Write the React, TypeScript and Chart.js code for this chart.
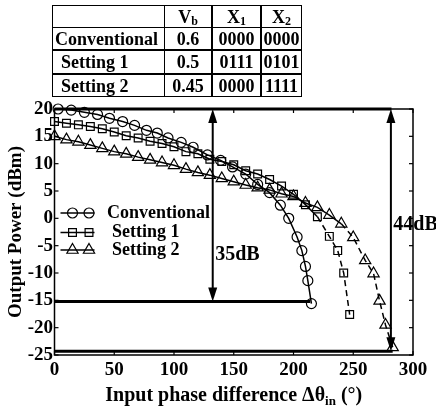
import React, { useEffect, useRef } from "react";
import { Chart, registerables } from "chart.js";

Chart.register(...registerables);

// ---- data ----
const conventionalX = [3, 14, 25, 36, 46, 57, 67, 77, 86, 95, 106, 116, 128, 139, 149, 160, 170, 180, 189, 196, 203, 207, 210, 212, 215];
const conventionalY = [20.0, 19.8, 19.4, 19.0, 18.3, 17.7, 17.0, 16.1, 15.6, 14.7, 13.9, 13.0, 11.6, 10.6, 9.4, 8.1, 6.2, 4.7, 2.4, 0.0, -3.4, -5.9, -8.8, -11.4, -15.6];

const setting1X = [0, 10, 20, 30, 40, 50, 60, 70, 80, 90, 100, 110, 120, 130, 140, 150, 160, 170, 180, 190, 200, 210, 220, 230, 237, 242, 247];
const setting1Y = [17.7, 17.4, 17.1, 16.8, 16.4, 15.8, 15.1, 14.7, 14.1, 13.7, 13.1, 12.2, 11.8, 10.8, 10.4, 9.8, 8.7, 8.1, 7.1, 5.9, 4.4, 2.5, 0.3, -3.3, -5.9, -10.0, -17.6];

const setting2X = [0, 10, 20, 30, 40, 50, 60, 70, 80, 90, 100, 110, 120, 130, 140, 150, 160, 170, 180, 190, 200, 210, 220, 230, 240, 250, 260, 267, 272, 277, 283];
const setting2Y = [15.0, 14.4, 14.0, 13.4, 12.8, 12.2, 11.8, 11.2, 10.7, 10.2, 9.7, 9.0, 8.4, 7.9, 7.3, 6.7, 6.1, 5.6, 5.2, 4.5, 4.0, 2.8, 2.0, 0.6, -1.0, -3.5, -7.7, -10.1, -15.1, -19.5, -23.6];

const seriesNames = ["Conventional", "Setting 1", "Setting 2"];

const xTicks = [0, 50, 100, 150, 200, 250, 300];
const yTicks = [-25, -20, -15, -10, -5, 0, 5, 10, 15, 20];

// reference levels: [yValue, xEnd]
const levelY = [20, -15.2, -24.3];
const levelXEnd = [282, 214, 283];
// double arrows
const arrowX = [132.4, 281.5];
const arrowTop = [20, 20];
const arrowBottom = [-15.2, -24.3];
const arrowLabels = ["35dB", "44dB"];
const arrowLabelX = [134.5, 283.5];
const arrowLabelY = [-6.6, -1.2];

// table
const tableHeader = ["", "V", "X", "X"];
const tableHeaderSub = ["", "b", "1", "2"];
const tableRows = [
  ["Conventional", "0.6", "0000", "0000"],
  ["Setting 1", "0.5", "0111", "0101"],
  ["Setting 2", "0.45", "0000", "1111"],
];

const SERIF = '"Liberation Serif", "Times New Roman", serif';

const toPts = (xs: number[], ys: number[]) => xs.map((x, i) => ({ x, y: ys[i] }));

function drawMarker(ctx: CanvasRenderingContext2D, style: string, x: number, y: number, r: number) {
  ctx.beginPath();
  if (style === "circle") {
    ctx.arc(x, y, r, 0, Math.PI * 2);
  } else if (style === "rect") {
    const s = r * Math.SQRT1_2;
    ctx.rect(x - s, y - s, 2 * s, 2 * s);
  } else {
    let a = 0;
    ctx.moveTo(x + Math.sin(a) * r, y - Math.cos(a) * r);
    a += (2 * Math.PI) / 3;
    ctx.lineTo(x + Math.sin(a) * r, y - Math.cos(a) * r);
    a += (2 * Math.PI) / 3;
    ctx.lineTo(x + Math.sin(a) * r, y - Math.cos(a) * r);
    ctx.closePath();
  }
  ctx.stroke();
}

const markerStyles = ["circle", "rect", "triangle"];
const markerRadii = [5, 5.5, 6.5];

const overlayPlugin = {
  id: "overlay",
  afterDatasetsDraw(chart: any) {
    const { ctx, chartArea: a, scales } = chart;
    const xs = scales.x;
    const ys = scales.y;
    const line = (x1: number, y1: number, x2: number, y2: number) => {
      ctx.beginPath();
      ctx.moveTo(x1, y1);
      ctx.lineTo(x2, y2);
      ctx.stroke();
    };
    ctx.save();
    ctx.strokeStyle = "#000";
    ctx.fillStyle = "#000";
    // frame
    ctx.lineWidth = 1.5;
    ctx.strokeRect(a.left, a.top, a.right - a.left, a.bottom - a.top);
    // inward ticks
    ctx.lineWidth = 1.2;
    xTicks.forEach((v) => {
      const px = xs.getPixelForValue(v);
      line(px, a.bottom, px, a.bottom - 4);
      line(px, a.top, px, a.top + 4);
    });
    yTicks.forEach((v) => {
      const py = ys.getPixelForValue(v);
      line(a.left, py, a.left + 4, py);
      line(a.right, py, a.right - 4, py);
    });
    // reference levels
    ctx.lineWidth = 3;
    levelY.forEach((v, i) => {
      const py = ys.getPixelForValue(v);
      line(xs.getPixelForValue(0), py, xs.getPixelForValue(levelXEnd[i]), py);
    });
    // double arrows
    arrowX.forEach((v, i) => {
      const px = xs.getPixelForValue(v);
      const pt = ys.getPixelForValue(arrowTop[i]);
      const pb = ys.getPixelForValue(arrowBottom[i]);
      const hl = 14;
      const hw = 4.5;
      ctx.lineWidth = 2;
      line(px, pt + hl - 1, px, pb - hl + 1);
      ctx.beginPath();
      ctx.moveTo(px, pt);
      ctx.lineTo(px - hw, pt + hl);
      ctx.lineTo(px + hw, pt + hl);
      ctx.closePath();
      ctx.fill();
      ctx.beginPath();
      ctx.moveTo(px, pb);
      ctx.lineTo(px - hw, pb - hl);
      ctx.lineTo(px + hw, pb - hl);
      ctx.closePath();
      ctx.fill();
      ctx.font = `bold 20px ${SERIF}`;
      ctx.textAlign = "left";
      ctx.textBaseline = "middle";
      ctx.fillText(arrowLabels[i], xs.getPixelForValue(arrowLabelX[i]), ys.getPixelForValue(arrowLabelY[i]));
    });
    // legend
    const rowsY = [a.top + 104, a.top + 123.5, a.top + 141];
    const textX = [a.left + 52.5, a.left + 57.5, a.left + 57.5];
    seriesNames.forEach((name, i) => {
      const ry = rowsY[i];
      ctx.lineWidth = 1.5;
      line(a.left + 6, ry, a.left + 40, ry);
      ctx.lineWidth = 1.2;
      drawMarker(ctx, markerStyles[i], a.left + 18, ry, markerRadii[i]);
      drawMarker(ctx, markerStyles[i], a.left + 34.5, ry, markerRadii[i]);
      ctx.font = `bold 18px ${SERIF}`;
      ctx.textAlign = "left";
      ctx.textBaseline = "middle";
      ctx.fillText(name, textX[i], ry);
    });
    // x axis title with subscript
    const p1 = "Input phase difference \u0394\u03B8";
    const sub = "in";
    const p3 = " (\u00B0)";
    const big = `bold 20px ${SERIF}`;
    const small = `bold 13px ${SERIF}`;
    ctx.font = big;
    const w1 = ctx.measureText(p1).width;
    const w3 = ctx.measureText(p3).width;
    ctx.font = small;
    const w2 = ctx.measureText(sub).width;
    const total = w1 + w2 + w3;
    let tx = (a.left + a.right) / 2 - total / 2;
    const base = 401;
    ctx.textBaseline = "alphabetic";
    ctx.textAlign = "left";
    ctx.font = big;
    ctx.fillText(p1, tx, base);
    tx += w1;
    ctx.font = small;
    ctx.fillText(sub, tx, base + 4);
    tx += w2;
    ctx.font = big;
    ctx.fillText(p3, tx, base);
    ctx.restore();
  },
};

function ChartCanvas() {
  const ref = useRef<HTMLCanvasElement | null>(null);
  useEffect(() => {
    if (!ref.current) return;
    const common = {
      borderColor: "#000",
      backgroundColor: "transparent",
      pointBorderColor: "#000",
      pointBackgroundColor: "transparent",
      borderWidth: 1.5,
      pointBorderWidth: 1.2,
      showLine: true,
      fill: false,
      tension: 0,
      clip: false as any,
    };
    const chart = new Chart(ref.current, {
      type: "scatter",
      data: {
        datasets: [
          {
            ...common,
            label: seriesNames[0],
            data: toPts(conventionalX, conventionalY),
            pointStyle: "circle",
            pointRadius: markerRadii[0],
          },
          {
            ...common,
            label: seriesNames[1],
            data: toPts(setting1X, setting1Y),
            pointStyle: "rect",
            pointRadius: markerRadii[1],
            segment: {
              borderDash: (c: any) => (c.p0.parsed.x >= 220 ? [6, 4] : undefined),
            },
          },
          {
            ...common,
            label: seriesNames[2],
            data: toPts(setting2X, setting2Y),
            pointStyle: "triangle",
            pointRadius: markerRadii[2],
            segment: {
              borderDash: (c: any) => (c.p0.parsed.x >= 240 ? [6, 4] : undefined),
            },
          },
        ],
      },
      options: {
        responsive: false,
        animation: false,
        layout: { padding: { top: 109, right: 23, left: 0, bottom: 0 } },
        plugins: { legend: { display: false }, tooltip: { enabled: false } },
        scales: {
          x: {
            type: "linear",
            min: 0,
            max: 300,
            ticks: {
              stepSize: 50,
              color: "#000",
              font: { family: SERIF, size: 19, weight: "bold" },
              padding: 4,
              maxRotation: 0,
            },
            grid: { display: false, drawTicks: false },
            border: { display: false },
            afterFit: (s: any) => {
              s.height = 55;
            },
          },
          y: {
            type: "linear",
            min: -25,
            max: 20,
            ticks: {
              stepSize: 5,
              color: "#000",
              font: { family: SERIF, size: 19, weight: "bold" },
              padding: 1.5,
            },
            grid: { display: false, drawTicks: false },
            border: { display: false },
            title: {
              display: true,
              text: "Output Power (dBm)",
              color: "#000",
              font: { family: SERIF, size: 19, weight: "bold" },
              padding: { top: 5, bottom: 0 },
            },
            afterFit: (s: any) => {
              s.width = 54.5;
            },
          },
        },
      } as any,
      plugins: [overlayPlugin],
    });
    return () => chart.destroy();
  }, []);
  return <canvas ref={ref} width={436} height={410} style={{ display: "block" }} />;
}

export default function App() {
  const colW = [113, 48, 49, 41];
  const colLeft = [52, 165, 213, 262];
  const rowTop = [5, 28, 51, 75];
  const rowH = [23, 23, 24, 23];
  const text: React.CSSProperties = {
    position: "absolute",
    fontFamily: SERIF,
    fontWeight: "bold",
    fontSize: 18,
    lineHeight: "20px",
    whiteSpace: "nowrap",
    color: "#000",
    boxSizing: "border-box",
    overflow: "visible",
  };
  const cells: React.ReactNode[] = [];
  const allRows = [tableHeader, ...tableRows];
  allRows.forEach((r, ri) => {
    r.forEach((v, ci) => {
      const isFirst = ci === 0;
      cells.push(
        <div
          key={`${ri}-${ci}`}
          style={{
            ...text,
            left: colLeft[ci],
            top: rowTop[ri],
            width: colW[ci],
            height: rowH[ri],
            border: "1.2px solid #000",
            marginLeft: ci > 0 ? -1 : 0,
            marginTop: ri > 0 ? -1 : 0,
            display: "flex",
            alignItems: "center",
            justifyContent: isFirst ? "flex-start" : "center",
            paddingLeft: isFirst ? (ri === 1 ? 2 : 8) : 0,
          }}
        >
          {v}
          {ri === 0 && tableHeaderSub[ci] ? (
            <span style={{ fontSize: 12, position: "relative", top: 4 }}>{tableHeaderSub[ci]}</span>
          ) : null}
        </div>
      );
    });
  });
  return (
    <div style={{ position: "fixed", left: 0, top: 0, width: 436, height: 410, background: "#fff", overflow: "hidden" }}>
      <ChartCanvas />
      <div style={{ position: "absolute", left: 0, top: 0, width: 436, height: 110 }}>{cells}</div>
    </div>
  );
}
